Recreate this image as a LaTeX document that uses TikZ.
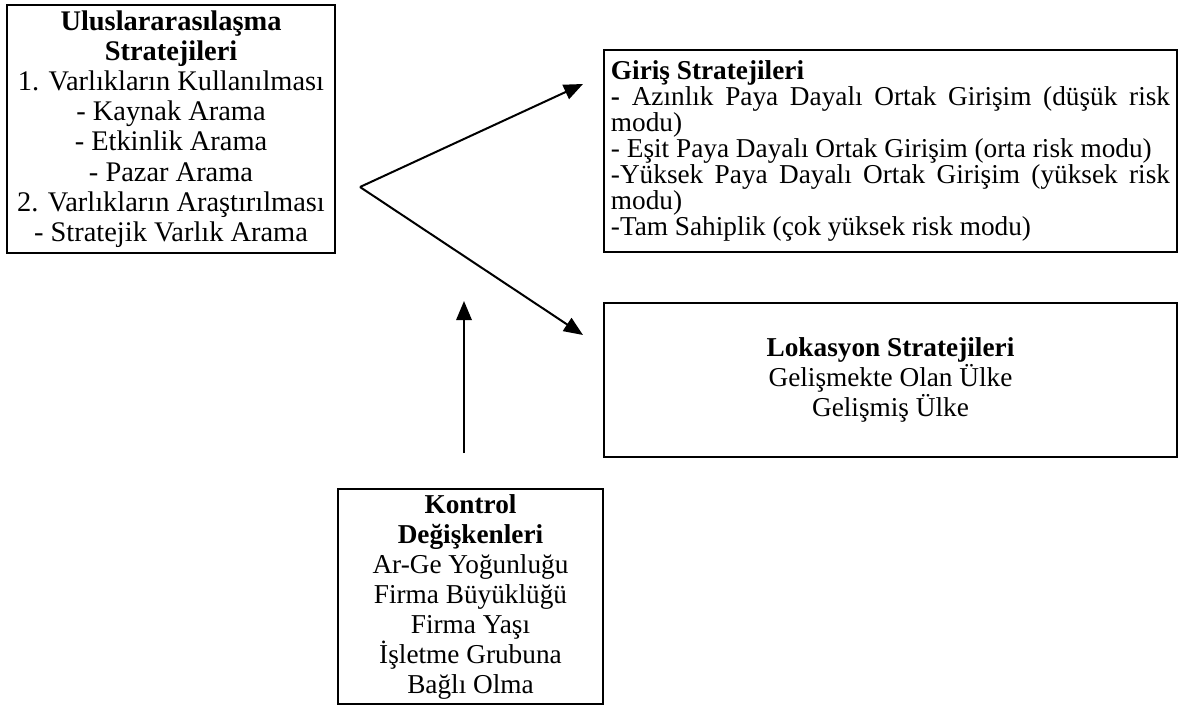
\documentclass[tikz,border=0pt]{standalone}
\usepackage{fontspec}
\setmainfont{Liberation Serif}
\usetikzlibrary{arrows.meta}
\tikzset{
  kutu/.style={draw,line width=.88pt,inner sep=0pt,align=flush center,
    font=\fontsize{12}{11.5}\selectfont},
  ok/.style={line width=.88pt,-{Triangle[length=8.4pt,width=6.8pt]}}
}

\begin{document}
\begin{tikzpicture}[x=.44pt,y=-.44pt]
\path[use as bounding box] (0,0) rectangle (1180,706);
% kutular
\node[kutu,minimum width=144.3pt,minimum height=108.7pt,text width=142pt,
  font=\fontsize{12.5}{13.3}\selectfont] (uluslar) at (171,129)
  {\textbf{Uluslararasılaşma}\\ \textbf{Stratejileri}\\ 1. Varlıkların Kullanılması\\
   - Kaynak Arama\\ - Etkinlik Arama\\ - Pazar Arama\\
   2. Varlıkların Araştırılması\\ - Stratejik Varlık Arama};
\node[kutu,minimum width=252.1pt,minimum height=88.9pt,text width=246pt,align=justify,
  font=\fontsize{12}{11.4}\selectfont] (giris) at (890.5,151)
  {\textbf{Giriş Stratejileri}\\
   \textbf{-} Azınlık Paya Dayalı Ortak Girişim (düşük risk\linebreak modu)\\
   - Eşit Paya Dayalı Ortak Girişim (orta risk modu)\\
   -Yüksek Paya Dayalı Ortak Girişim (yüksek risk\linebreak modu)\\
   -Tam Sahiplik (çok yüksek risk modu)};
\node[kutu,minimum width=252.1pt,minimum height=67.8pt,text width=246pt] (lokasyon) at (890.5,380)
  {\textbf{Lokasyon Stratejileri}\\ Gelişmekte Olan Ülke\\ Gelişmiş Ülke};
\node[kutu,minimum width=116.6pt,minimum height=94.6pt,text width=114pt,
  font=\fontsize{12}{13.2}\selectfont] (kontrol) at (470.5,596.5)
  {\textbf{Kontrol}\\ \textbf{Değişkenleri}\\ Ar-Ge Yoğunluğu\\ Firma Büyüklüğü\\
   Firma Yaşı\\ İşletme Grubuna\\ Bağlı Olma};
% oklar
\coordinate (catal) at (360,187);
\coordinate (girisuc) at (583,84);
\coordinate (lokuc) at (583,335);
\coordinate (kontrolbas) at (464,453);
\coordinate (kontroluc) at (464,301);
\draw[ok] (catal) -- (girisuc);
\draw[ok] (catal) -- (lokuc);
\draw[ok] (kontrolbas) -- (kontroluc);
\end{tikzpicture}
\end{document}
